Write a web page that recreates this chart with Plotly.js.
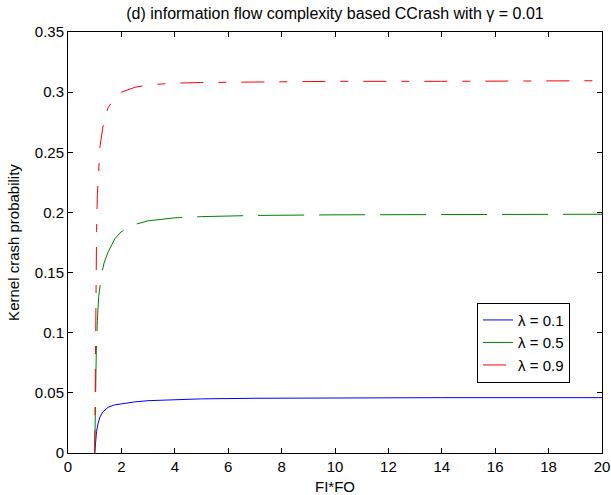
<!DOCTYPE html>
<html>
<head>
<meta charset="utf-8">
<script src="https://cdn.plot.ly/plotly-3.0.1.min.js"></script>
<style>html,body{margin:0;padding:0;background:#fff;}#chart{width:611px;height:495px;}</style>
</head>
<body>
<div id="chart"></div>
<script>
const xBlue  = [1.0, 1.03, 1.07, 1.12, 1.2, 1.3, 1.5, 1.75, 2, 2.5, 3, 4, 5, 7, 10, 14, 20];
const yBlue  = [0, 0.010, 0.018, 0.024, 0.030, 0.034, 0.038, 0.040, 0.041, 0.0425, 0.0435, 0.0445, 0.045, 0.0455, 0.0458, 0.046, 0.046];
const xGreen = [1.0, 1.03, 1.06, 1.1, 1.15, 1.25, 1.35, 1.5, 1.75, 2, 2.5, 3, 4, 5, 7, 10, 14, 20];
const yGreen = [0, 0.05, 0.085, 0.11, 0.13, 0.148, 0.158, 0.167, 0.178, 0.184, 0.190, 0.193, 0.1955, 0.1965, 0.1975, 0.198, 0.198, 0.1985];
const xRed   = [1.0, 1.02, 1.04, 1.07, 1.1, 1.15, 1.2, 1.3, 1.4, 1.5, 1.75, 2, 2.5, 3, 4, 5, 7, 10, 14, 20];
const yRed   = [0, 0.08, 0.14, 0.185, 0.215, 0.24, 0.255, 0.27, 0.28, 0.287, 0.295, 0.300, 0.304, 0.306, 0.3075, 0.308, 0.3085, 0.309, 0.309, 0.3095];
const names  = ['λ = 0.1', 'λ = 0.5', 'λ = 0.9'];
const xTicks = [0, 2, 4, 6, 8, 10, 12, 14, 16, 18, 20];
const yTicks = [0, 0.05, 0.1, 0.15, 0.2, 0.25, 0.3, 0.35];
const yTickText = ['0', '0.05', '0.1', '0.15', '0.2', '0.25', '0.3', '0.35'];

const fam = 'Liberation Sans, Arial, sans-serif';
const font = {family: fam, size: 15, color: '#000'};
const traces = [
  {x: xBlue, y: yBlue, name: names[0], mode: 'lines', line: {color: '#0000ff', width: 1}},
  {x: xGreen, y: yGreen, name: names[1], mode: 'lines', line: {color: '#008000', width: 1, dash: '46px,15px'}},
  {x: xRed, y: yRed, name: names[2], mode: 'lines', line: {color: '#ff0000', width: 1, dash: '23px,15px,8px,15px'}}
];
const axisCommon = {
  showgrid: false, zeroline: false, showline: true, linecolor: '#000', linewidth: 1,
  mirror: 'ticks', ticks: 'inside', ticklen: 5, tickcolor: '#000', tickfont: font
};
const layout = {
  width: 611, height: 495,
  margin: {l: 68, r: 9, t: 32, b: 42},
  paper_bgcolor: '#fff', plot_bgcolor: '#fff',
  font: font,
  title: {text: '(d) information flow complexity based CCrash with γ = 0.01', font: {family: fam, size: 16, color: '#000'},
    xref: 'paper', x: 0.5, xanchor: 'center', yref: 'container', y: 0.972, yanchor: 'middle'},
  xaxis: Object.assign({}, axisCommon, {range: [0, 20], tickvals: xTicks, ticktext: xTicks.map(String),
    title: {text: 'FI*FO', font: font, standoff: 7}}),
  yaxis: Object.assign({}, axisCommon, {range: [0, 0.35], tickvals: yTicks, ticktext: yTickText,
    title: {text: 'Kernel crash probability', font: font, standoff: 11}}),
  legend: {x: 0.766, y: 0.357, xanchor: 'left', yanchor: 'top', bordercolor: '#000', borderwidth: 1,
    bgcolor: '#fff', font: {family: fam, size: 15, color: '#000'}, tracegroupgap: 0, itemwidth: 30},
  showlegend: true
};
Plotly.newPlot('chart', traces, layout, {displayModeBar: false, staticPlot: true});
</script>
</body>
</html>
